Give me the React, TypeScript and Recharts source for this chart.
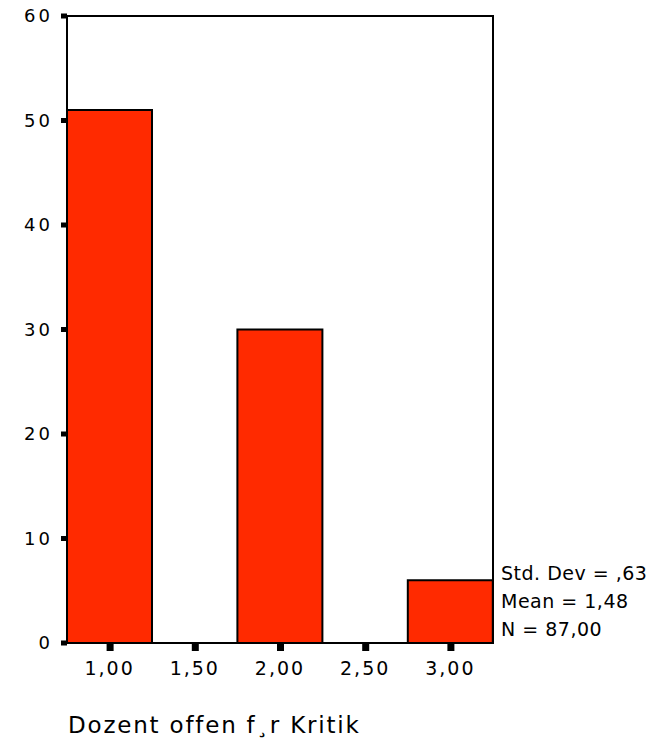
import React from "react";
import { BarChart, Bar, XAxis, YAxis, ReferenceArea } from "recharts";

const categories = ["1,00", "1,50", "2,00", "2,50", "3,00"];
const counts = [51, 0, 30, 0, 6];
const yTicks = [0, 10, 20, 30, 40, 50, 60];
const statLines = ["Std. Dev = ,63", "Mean = 1,48", "N = 87,00"];
const axisTitle = "Dozent offen f\u00b8r Kritik";

const data = categories.map((c, i) => ({ bin: c, count: counts[i] }));

const FONT = "DejaVu Sans";

const YTick = (props: any) => {
  const { x, y, payload } = props;
  return (
    <g>
      <rect x={61} y={y - 2.5} width={6} height={5} fill="#000" />
      <text x={x} y={y} dy={6} textAnchor="end" fontFamily={FONT} fontSize={18} letterSpacing={3} fill="#000">
        {payload.value}
      </text>
    </g>
  );
};

const XTick = (props: any) => {
  const { x, y, payload } = props;
  return (
    <g>
      <rect x={x - 3} y={644} width={7} height={7} fill="#000" />
      <text x={x} y={y} dy={24} textAnchor="middle" fontFamily={FONT} fontSize={19} letterSpacing={2} fill="#000">
        {payload.value}
      </text>
    </g>
  );
};

export default function App() {
  return (
    <div style={{ position: "absolute", left: 0, top: 0, width: 655, height: 744, background: "#fff" }}>
      <BarChart
        width={655}
        height={744}
        data={data}
        margin={{ top: 16, right: 162, bottom: 0, left: 0 }}
        barCategoryGap={0}
        barGap={0}
      >
        <XAxis
          dataKey="bin"
          height={101}
          axisLine={{ stroke: "#000", strokeWidth: 2 }}
          tickLine={false}
          tickSize={6}
          tickMargin={2}
          tick={<XTick />}
          interval={0}
        />
        <YAxis
          width={67}
          domain={[0, 60]}
          ticks={yTicks}
          axisLine={{ stroke: "#000", strokeWidth: 2 }}
          tickLine={false}
          tickSize={6}
          tickMargin={8}
          tick={<YTick />}
        />
        <Bar
          dataKey="count"
          fill="#ff2a00"
          stroke="#000"
          strokeWidth={2}
          isAnimationActive={false}
        />
        <ReferenceArea y1={0} y2={60} fill="none" stroke="#000" strokeWidth={2} ifOverflow="visible" />
      </BarChart>
      {statLines.map((s, i) => (
        <div
          key={i}
          style={{
            position: "absolute",
            left: 501,
            top: 562 + i * 28,
            fontFamily: FONT,
            fontSize: 19,
            letterSpacing: 0.5,
            lineHeight: "22px",
            whiteSpace: "nowrap",
            color: "#000",
          }}
        >
          {s}
        </div>
      ))}
      <div
        style={{
          position: "absolute",
          left: 68,
          top: 711,
          fontFamily: FONT,
          fontSize: 23,
          letterSpacing: 1.8,
          lineHeight: "28px",
          whiteSpace: "nowrap",
          color: "#000",
        }}
      >
        {axisTitle}
      </div>
    </div>
  );
}
